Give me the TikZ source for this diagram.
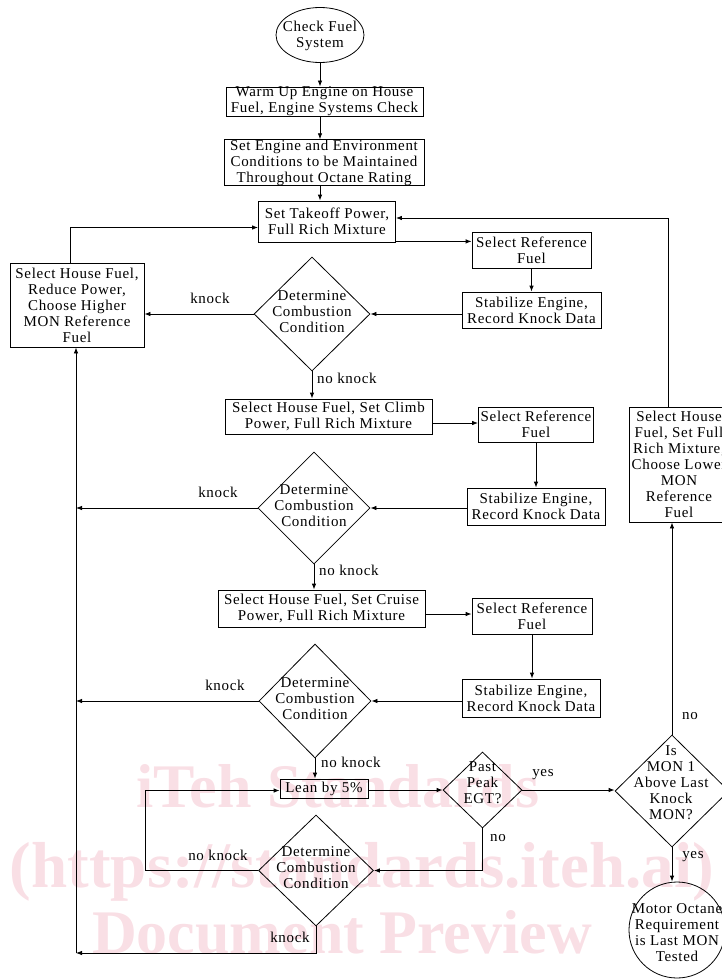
\documentclass[tikz,border=0pt]{standalone}
\usepackage{fontspec}
\setmainfont{Liberation Serif}
\newfontfamily\dfont[LetterSpace=4.5]{Liberation Serif}
\newfontfamily\wmfont{Liberation Serif}
\usetikzlibrary{shapes.geometric,arrows.meta}
\definecolor{wmpink}{RGB}{249,223,229}
\begin{document}
\begin{tikzpicture}[x=1pt,y=-1pt,
  every node/.style={font=\dfont\fontsize{15}{16}\selectfont},
  box/.style={draw, rectangle, line width=0.8pt, inner xsep=1pt, inner ysep=0pt, align=center},
  dia/.style={draw, diamond, line width=0.8pt, inner sep=0pt},
  txt/.style={align=center, inner sep=0pt},
  lbl/.style={inner sep=0pt},
  arr/.style={-{Latex[length=6pt,width=4.5pt]}, line width=0.8pt},
  ln/.style={line width=0.8pt},
  wm/.style={font=\wmfont\bfseries\fontsize{62}{62}\selectfont, text=wmpink, inner sep=0pt, anchor=base}]
\useasboundingbox (0,0) rectangle (722,979);
\clip (0,0) rectangle (722,979);

% watermark
\node[wm] (wm1) at (338,807) {iTeh Standards};
\node[wm, font=\wmfont\bfseries\fontsize{65}{65}\selectfont] (wm2) at (362,887) {(https://standards.iteh.ai)};
\node[wm] (wm3) at (342,953) {Document Preview};

% shapes
\node[draw, ellipse, line width=0.8pt, minimum width=88, minimum height=55, inner sep=0pt] (start) at (320,35) {};
\node[txt] (startt) at (320,36) {Check Fuel\\System};

\node[box, minimum width=197, minimum height=29] (warm) at (324.5,101.5) {Warm Up Engine on House\\Fuel, Engine Systems Check};
\node[box, minimum width=200, minimum height=45] (cond) at (324,162.5) {Set Engine and Environment\\Conditions to be Maintained\\Throughout Octane Rating};
\node[box, minimum width=137, minimum height=41] (takeoff) at (327,221.5) {Set Takeoff Power,\\Full Rich Mixture};

\node[box, minimum width=134, minimum height=84] (house) at (77,305) {Select House Fuel,\\Reduce Power,\\Choose Higher\\MON Reference\\Fuel};

\node[box, minimum width=119, minimum height=36] (ref1) at (531.5,250) {Select Reference\\Fuel};
\node[box, minimum width=139, minimum height=36] (stab1) at (531.5,310) {Stabilize Engine,\\Record Knock Data};
\node[dia, minimum width=116, minimum height=114] (d1) at (312,314) {};
\node[txt] (d1t) at (312,312) {Determine\\Combustion\\Condition};

\node[box, minimum width=207, minimum height=35] (climb) at (328.5,416.5) {Select House Fuel, Set Climb\\Power, Full Rich Mixture};
\node[box, minimum width=115, minimum height=35] (ref2) at (536,424.5) {Select Reference\\Fuel};
\node[box, minimum width=138, minimum height=37] (stab2) at (536,506.5) {Stabilize Engine,\\Record Knock Data};
\node[dia, minimum width=112, minimum height=112] (d2) at (314,508) {};
\node[txt] (d2t) at (314,506) {Determine\\Combustion\\Condition};

\node[box, minimum width=207, minimum height=37] (cruise) at (321.5,608.5) {Select House Fuel, Set Cruise\\Power, Full Rich Mixture};
\node[box, minimum width=120, minimum height=36] (ref3) at (532,616) {Select Reference\\Fuel};
\node[box, minimum width=138, minimum height=38] (stab3) at (531,698) {Stabilize Engine,\\Record Knock Data};
\node[dia, minimum width=112, minimum height=114] (d3) at (315,701) {};
\node[txt] (d3t) at (315,699) {Determine\\Combustion\\Condition};

\node[box, minimum width=88, minimum height=19] (lean) at (324,788.5) {Lean by 5\%};
\node[dia, minimum width=79, minimum height=76] (peak) at (482.5,790) {};
\node[txt] (peakt) at (482.5,783) {Past\\Peak\\EGT?};
\node[dia, minimum width=115, minimum height=111] (d4) at (316,870.5) {};
\node[txt] (d4t) at (316,868) {Determine\\Combustion\\Condition};

\node[dia, minimum width=114, minimum height=112] (mon) at (672,791) {};
\node[txt] (mont) at (671,783) {Is\\MON 1\\Above Last\\Knock\\MON?};
\node[box, minimum width=100, minimum height=115] (rbox) at (679,464.5) {Select House\\Fuel, Set Full\\Rich Mixture,\\Choose Lower\\MON\\Reference\\Fuel};
\node[draw, circle, line width=0.8pt, minimum size=96, inner sep=0pt] (final) at (677,930) {};
\node[txt] (finalt) at (677,933) {Motor Octane\\Requirement\\is Last MON\\Tested};

\coordinate (vbot) at (76,953);
\coordinate (nkx) at (145,871);

% connectors
\draw[arr] (start.south) -- (start.south |- warm.north);
\draw[arr] (warm.south -| start.south) -- (start.south |- cond.north);
\draw[arr] (cond.south -| start.south) -- (start.south |- takeoff.north);
\draw[arr] ([yshift=1pt]takeoff.south east) -- ([yshift=1pt]takeoff.south east -| ref1.west);
\draw[arr] (ref1.south) -- (stab1.north);
\draw[arr] (stab1.west |- d1.east) -- (d1.east);
\draw[arr] (d1.west) -- (d1.west -| house.east);
\draw[arr] ([xshift=-7pt]house.north) |- ([yshift=-6pt]takeoff.west);
\draw[arr] (d1.south) -- (d1.south |- climb.north);
\draw[arr] ([yshift=-6.5pt]climb.east) -- ([yshift=-6.5pt]climb.east -| ref2.west);
\draw[arr] (ref2.south) -- (ref2.south |- stab2.north);
\draw[arr] (stab2.west |- d2.east) -- (d2.east);
\draw[arr] (d2.west) -- (d2.west -| vbot);
\draw[arr] (d2.south) -- (d2.south |- cruise.north);
\draw[arr] ([yshift=-5.5pt]cruise.east) -- ([yshift=-5.5pt]cruise.east -| ref3.west);
\draw[arr] (ref3.south) -- (ref3.south |- stab3.north);
\draw[arr] (stab3.west |- d3.east) -- (d3.east);
\draw[arr] (d3.west) -- (d3.west -| vbot);
\draw[arr] (d3.south) -- (d3.south |- lean.north);
\draw[arr] (lean.east |- peak.west) -- (peak.west);
\draw[arr] (peak.east) -- (peak.east -| mon.west);
\draw[arr] (peak.south) |- (d4.east);
\draw[arr] (d4.west) -- (nkx |- d4.west) |- ([yshift=-2pt]lean.west);
\draw[arr] (d4.south) |- (vbot);
\draw[arr] (vbot) -- (vbot |- house.south);
\draw[arr] (mon.north) -- (mon.north |- rbox.south);
\draw[arr] ([xshift=-4pt]mon.north |- rbox.north) |- ([yshift=3.5pt]takeoff.east);
\draw[arr] (mon.south) -- (mon.south |- final.north);

% labels
\node[lbl] (lk1) at (210,298) {knock};
\node[lbl, anchor=west] (lnk1) at (317,378) {no knock};
\node[lbl] (lk2) at (218,492) {knock};
\node[lbl, anchor=west] (lnk2) at (319,570) {no knock};
\node[lbl] (lk3) at (225,685) {knock};
\node[lbl, anchor=west] (lnk3) at (321,762) {no knock};
\node[lbl] (ly1) at (543,775) {yes};
\node[lbl] (ln1) at (498,838) {no};
\node[lbl] (lnk4) at (218,855) {no knock};
\node[lbl] (lk4) at (290,937) {knock};
\node[lbl] (ln2) at (690,716) {no};
\node[lbl] (ly2) at (693,857) {yes};
\end{tikzpicture}
\end{document}
